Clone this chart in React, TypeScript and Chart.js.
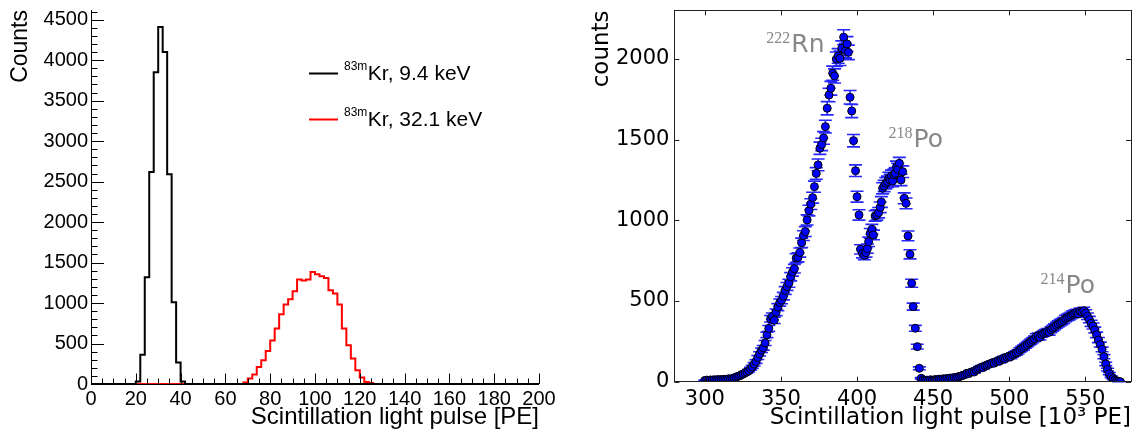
import React, { useEffect, useRef } from "react";
import { Chart, registerables } from "chart.js";

Chart.register(...registerables);

// ---------------- Left panel: 83mKr spectra ----------------
const krXTicks = [0, 20, 40, 60, 80, 100, 120, 140, 160, 180, 200];
const krYTicks = [0, 500, 1000, 1500, 2000, 2500, 3000, 3500, 4000, 4500];
const krBinWidth = 2;
const kr94BinLow = [20, 22, 24, 26, 28, 30, 32, 34, 36, 38, 40];
const kr94Counts = [30, 360, 1320, 2620, 3850, 4410, 4100, 2590, 1010, 265, 30];
const kr321BinLow = [
  68, 70, 72, 74, 76, 78, 80, 82, 84, 86, 88, 90, 92, 94, 96, 98, 100, 102, 104, 106,
  108, 110, 112, 114, 116, 118, 120, 122, 124,
];
const kr321Counts = [
  18, 68, 117, 211, 294, 409, 537, 685, 862, 981, 1047, 1146, 1290, 1280, 1290, 1384,
  1356, 1331, 1310, 1158, 1117, 981, 685, 479, 315, 170, 80, 26, 12,
];
const legendSup = "83m";
const legendLabels = ["Kr, 9.4 keV", "Kr, 32.1 keV"];
const legendColors = ["#000000", "#ff0000"];

// ---------------- Right panel: radon chain ----------------
const pulseXTicks = [300, 350, 400, 450, 500, 550];
const countsYTicks = [0, 500, 1000, 1500, 2000];
const pulseX = [
  300.0, 301.2, 302.4, 303.6, 304.8, 306.0, 307.2, 308.4, 309.6, 310.8, 312.0, 313.2, 314.4, 315.6, 316.8,
  318.0, 319.2, 320.4, 321.6, 322.8, 324.0, 325.2, 326.4, 327.6, 328.8, 330.0, 331.2, 332.4, 333.6, 334.8,
  336.0, 337.2, 338.4, 339.6, 340.8, 342.0, 343.2, 344.4, 345.6, 346.8, 348.0, 349.2, 350.4, 351.6, 352.8,
  354.0, 355.2, 356.4, 357.6, 358.8, 360.0, 361.2, 362.4, 363.6, 364.8, 366.0, 367.2, 368.4, 369.6, 370.8,
  372.0, 373.2, 374.4, 375.6, 376.8, 378.0, 379.2, 380.4, 381.6, 382.8, 384.0, 385.2, 386.4, 387.6, 388.8,
  390.0, 391.2, 392.4,
  393.4, 394.3, 395.4, 396.5, 397.7, 399.0, 400.0, 401.3, 402.3, 403.6, 404.8, 405.9, 406.8, 407.6, 408.7,
  409.8, 410.8, 411.9, 413.0, 414.2, 415.2, 416.0, 416.8, 417.8, 418.9, 420.0, 420.9, 421.8, 422.6, 423.4,
  424.2, 425.1, 425.9, 426.7, 427.8, 428.9, 430.0, 431.0, 432.2, 433.5, 434.8, 435.9, 436.9, 438.3, 439.6,
  440.9, 442.2,
  443.4, 444.6, 445.8, 447.0, 448.2, 449.4, 450.6, 451.8, 453.0, 454.2, 455.4, 456.6, 457.8, 459.0, 460.2,
  461.4, 462.6, 463.8, 465.0, 466.2, 467.4, 468.6, 469.8, 471.0, 472.2, 473.4, 474.6, 475.8, 477.0, 478.2,
  479.4, 480.6, 481.8, 483.0, 484.2, 485.4, 486.6, 487.8, 489.0, 490.2, 491.4, 492.6, 493.8, 495.0, 496.2,
  497.4, 498.6, 499.8, 501.0, 502.2, 503.4, 504.6, 505.8, 507.0, 508.2, 509.4, 510.6, 511.8, 513.0, 514.2,
  515.4, 516.6, 517.8, 519.0, 520.2, 521.4, 522.6, 523.8, 525.0, 526.2, 527.4, 528.6, 529.8, 531.0, 532.2,
  533.4, 534.6, 535.8, 537.0, 538.2, 539.4, 540.6, 541.8, 543.0, 544.2, 545.4, 546.6, 547.8, 549.0, 550.2,
  551.4, 552.6, 553.8, 555.0, 556.2, 557.4, 558.6, 559.8, 561.0, 562.2, 563.4, 564.6, 565.8, 567.0, 568.2,
  569.4, 570.6, 571.8, 573.0,
];
const countsY = [
  8, 10, 7, 11, 9, 12, 10, 13, 11, 14, 12, 15, 14, 18, 16,
  20, 24, 27, 33, 36, 42, 47, 55, 60, 68, 80, 92, 108, 125, 150,
  172, 195, 210, 240, 290, 330, 390, 405, 380, 430, 462, 490, 505, 530, 565,
  590, 610, 650, 680, 700, 765, 770, 800, 860, 905, 930, 1002, 1060, 1100, 1140,
  1208, 1290, 1343, 1446, 1470, 1510, 1580, 1694, 1776, 1818, 1911, 1894, 1998, 2018, 2003,
  2066, 2134, 2051,
  2092, 2040, 1762, 1677, 1493, 1307, 1146, 1033, 820, 795, 783, 800, 824, 867, 919,
  944, 909, 1027, 1033, 1047, 1080, 1113, 1198, 1212, 1229, 1239, 1262, 1250, 1275, 1243,
  1281, 1291, 1330, 1316, 1353, 1250, 1301, 1136, 1105, 903, 789, 610, 465, 331, 217,
  83, 21,
  12, 8, 10, 7, 12, 9, 11, 14, 12, 16, 14, 18, 16, 20, 18,
  23, 21, 26, 24, 30, 32, 36, 40, 44, 52, 50, 58, 62, 60, 72,
  78, 84, 90, 88, 98, 102, 108, 112, 118, 115, 125, 130, 128, 139, 145,
  142, 152, 158, 155, 165, 172, 178, 185, 196, 205, 212, 222, 230, 240, 248,
  258, 266, 280, 285, 275, 292, 300, 305, 312, 306, 322, 331, 340, 350, 358,
  366, 372, 380, 392, 398, 403, 410, 418, 424, 428, 420, 436, 432, 440, 425,
  405, 385, 362, 345, 320, 290, 258, 230, 200, 155, 110, 75, 50, 31, 18,
  10, 5, 2, 0,
];
const peakSup = ["222", "218", "214"];
const peakName = ["Rn", "Po", "Po"];
const peakLabelX = [340.4, 420.7, 520.6];
const peakLabelY = [2043, 1454, 550];

function stepPoints(low: number[], counts: number[], width: number, from: number, to: number) {
  const pts: { x: number; y: number }[] = [{ x: from, y: 0 }];
  low.forEach((l, i) => pts.push({ x: l, y: counts[i] }));
  const end = low[low.length - 1] + width;
  pts.push({ x: end, y: 0 });
  if (to > end) pts.push({ x: to, y: 0 });
  return pts;
}

const ROOT_FONT = "'Liberation Sans', Arial, sans-serif";
const MPL_FONT = "'DejaVu Sans', sans-serif";

const leftDecor = {
  id: "leftDecor",
  afterDraw(chart: any) {
    const { ctx, chartArea } = chart;
    const xs = chart.scales.x;
    const ys = chart.scales.y;
    ctx.save();
    ctx.strokeStyle = "#000";
    ctx.lineWidth = 1;
    ctx.beginPath();
    ctx.moveTo(chartArea.left + 0.5, chartArea.top);
    ctx.lineTo(chartArea.left + 0.5, chartArea.bottom);
    ctx.moveTo(chartArea.left, chartArea.bottom + 0.5);
    ctx.lineTo(chartArea.right, chartArea.bottom + 0.5);
    ctx.stroke();
    ctx.beginPath();
    for (let v = 0; v <= ys.max; v += 100) {
      const py = Math.round(ys.getPixelForValue(v)) + 0.5;
      const len = v % 500 === 0 ? 13 : 6.5;
      ctx.moveTo(chartArea.left, py);
      ctx.lineTo(chartArea.left + len, py);
    }
    for (let v = 0; v <= xs.max; v += 5) {
      const px = Math.round(xs.getPixelForValue(v)) + 0.5;
      const len = v % 20 === 0 ? 10.5 : 5.5;
      ctx.moveTo(px, chartArea.bottom);
      ctx.lineTo(px, chartArea.bottom - len);
    }
    ctx.stroke();
    const rows = [73.5, 119.5];
    legendLabels.forEach((lab, i) => {
      const y = rows[i];
      ctx.strokeStyle = legendColors[i];
      ctx.lineWidth = 2;
      ctx.beginPath();
      ctx.moveTo(309, y);
      ctx.lineTo(338, y);
      ctx.stroke();
      ctx.fillStyle = "#000";
      ctx.textBaseline = "alphabetic";
      ctx.textAlign = "left";
      ctx.font = `12px ${ROOT_FONT}`;
      ctx.fillText(legendSup, 344, y - 3.5);
      const w = ctx.measureText(legendSup).width;
      ctx.font = `21px ${ROOT_FONT}`;
      ctx.fillText(lab, 344 + w + 0.5, y + 6.5);
    });
    ctx.restore();
  },
};

const rightDecor = {
  id: "rightDecor",
  beforeDatasetsDraw(chart: any) {
    const { ctx } = chart;
    const xs = chart.scales.x;
    const ys = chart.scales.y;
    ctx.save();
    ctx.strokeStyle = "rgba(0,0,255,0.85)";
    ctx.lineWidth = 1.6;
    ctx.beginPath();
    pulseX.forEach((xv, i) => {
      const yv = countsY[i];
      const err = Math.sqrt(yv);
      const px = xs.getPixelForValue(xv);
      const pTop = ys.getPixelForValue(yv + err);
      const pBot = ys.getPixelForValue(Math.max(0, yv - err));
      ctx.moveTo(px, pTop);
      ctx.lineTo(px, pBot);
      ctx.moveTo(px - 6.5, pTop);
      ctx.lineTo(px + 6.5, pTop);
      ctx.moveTo(px - 6.5, pBot);
      ctx.lineTo(px + 6.5, pBot);
    });
    ctx.stroke();
    ctx.restore();
  },
  afterDraw(chart: any) {
    const { ctx, chartArea } = chart;
    const xs = chart.scales.x;
    const ys = chart.scales.y;
    ctx.save();
    ctx.strokeStyle = "#222";
    ctx.lineWidth = 1;
    ctx.strokeRect(
      Math.round(chartArea.left) + 0.5,
      Math.round(chartArea.top) + 0.5,
      Math.round(chartArea.right - chartArea.left),
      Math.round(chartArea.bottom - chartArea.top)
    );
    ctx.beginPath();
    pulseXTicks.forEach((v) => {
      const px = Math.round(xs.getPixelForValue(v)) + 0.5;
      ctx.moveTo(px, chartArea.bottom);
      ctx.lineTo(px, chartArea.bottom - 5);
      ctx.moveTo(px, chartArea.top);
      ctx.lineTo(px, chartArea.top + 5);
    });
    countsYTicks.forEach((v) => {
      const py = Math.round(ys.getPixelForValue(v)) + 0.5;
      ctx.moveTo(chartArea.left, py);
      ctx.lineTo(chartArea.left + 5, py);
      ctx.moveTo(chartArea.right, py);
      ctx.lineTo(chartArea.right - 5, py);
    });
    ctx.stroke();
    ctx.fillStyle = "#888888";
    ctx.textAlign = "left";
    ctx.textBaseline = "alphabetic";
    peakSup.forEach((s, i) => {
      const px = xs.getPixelForValue(peakLabelX[i]);
      const py = ys.getPixelForValue(peakLabelY[i]);
      ctx.font = "16px 'Liberation Serif', serif";
      ctx.fillText(s, px, py - 9);
      const w = ctx.measureText(s).width;
      ctx.font = `25px ${MPL_FONT}`;
      ctx.fillText(peakName[i], px + w + 1, py);
    });
    ctx.restore();
  },
};

function LeftChart() {
  const ref = useRef<HTMLCanvasElement>(null);
  useEffect(() => {
    if (!ref.current) return;
    const chart = new Chart(ref.current, {
      type: "line",
      data: {
        datasets: [
          {
            data: stepPoints(kr94BinLow, kr94Counts, krBinWidth, 0, 200),
            borderColor: "#000000",
            borderWidth: 2,
            stepped: "before",
            pointRadius: 0,
            fill: false,
          },
          {
            data: stepPoints(kr321BinLow, kr321Counts, krBinWidth, 20, 130),
            borderColor: "#ff0000",
            borderWidth: 2,
            stepped: "before",
            pointRadius: 0,
            fill: false,
          },
        ],
      },
      options: {
        animation: false,
        responsive: false,
        events: [],
        layout: { padding: { top: 10, right: 29, left: 0, bottom: 0 } },
        plugins: { legend: { display: false }, tooltip: { enabled: false } },
        scales: {
          x: {
            type: "linear",
            min: 0,
            max: 200,
            afterBuildTicks: (s: any) => {
              s.ticks = krXTicks.map((v) => ({ value: v }));
            },
            afterFit: (s: any) => {
              s.height = 50;
              s.paddingLeft = 0;
              s.paddingRight = 0;
            },
            grid: { display: false, drawTicks: false },
            border: { display: false },
            ticks: {
              font: { family: ROOT_FONT, size: 20 },
              color: "#000",
              padding: 3,
              maxRotation: 0,
              autoSkip: false,
              callback: (v: any) => String(v),
            },
            title: {
              display: true,
              text: "Scintillation light pulse [PE]",
              align: "end",
              color: "#000",
              font: { family: ROOT_FONT, size: 24 },
              padding: { top: 0, bottom: 2 },
            },
          },
          y: {
            type: "linear",
            min: 0,
            max: 4620,
            afterBuildTicks: (s: any) => {
              s.ticks = krYTicks.map((v) => ({ value: v }));
            },
            afterFit: (s: any) => {
              s.width = 91;
              s.paddingTop = 0;
              s.paddingBottom = 0;
            },
            grid: { display: false, drawTicks: false },
            border: { display: false },
            ticks: {
              font: { family: ROOT_FONT, size: 20 },
              color: "#000",
              padding: 3,
              autoSkip: false,
              callback: (v: any) => String(v),
            },
            title: {
              display: true,
              text: "Counts",
              align: "end",
              color: "#000",
              font: { family: ROOT_FONT, size: 23 },
              padding: { top: 7, bottom: 0 },
            },
          },
        },
      },
      plugins: [leftDecor],
    } as any);
    return () => chart.destroy();
  }, []);
  return <canvas ref={ref} width={568} height={434} style={{ width: 568, height: 434, display: "block" }} />;
}

function RightChart() {
  const ref = useRef<HTMLCanvasElement>(null);
  useEffect(() => {
    if (!ref.current) return;
    const chart = new Chart(ref.current, {
      type: "scatter",
      data: {
        datasets: [
          {
            data: pulseX.map((x, i) => ({ x, y: countsY[i] })),
            pointRadius: 4,
            pointBackgroundColor: "#0000ff",
            pointBorderColor: "#000000",
            pointBorderWidth: 1,
            showLine: false,
          },
        ],
      },
      options: {
        animation: false,
        responsive: false,
        events: [],
        layout: { padding: { top: 10.4, right: 2.7, left: 0, bottom: 0 } },
        plugins: { legend: { display: false }, tooltip: { enabled: false } },
        scales: {
          x: {
            type: "linear",
            min: 280,
            max: 580,
            afterBuildTicks: (s: any) => {
              s.ticks = pulseXTicks.map((v) => ({ value: v }));
            },
            afterFit: (s: any) => {
              s.height = 52.3;
              s.paddingLeft = 0;
              s.paddingRight = 0;
            },
            grid: { display: false, drawTicks: false },
            border: { display: false },
            ticks: {
              font: { family: MPL_FONT, size: 21 },
              color: "#000",
              padding: 5,
              maxRotation: 0,
              autoSkip: false,
              callback: (v: any) => String(v),
            },
            title: {
              display: true,
              text: "Scintillation light pulse [10³ PE]",
              align: "end",
              color: "#000",
              font: { family: MPL_FONT, size: 23 },
              padding: { top: 0, bottom: 2 },
            },
          },
          y: {
            type: "linear",
            min: 0,
            max: 2300,
            afterBuildTicks: (s: any) => {
              s.ticks = countsYTicks.map((v) => ({ value: v }));
            },
            afterFit: (s: any) => {
              s.width = 106.4;
              s.paddingTop = 0;
              s.paddingBottom = 0;
            },
            grid: { display: false, drawTicks: false },
            border: { display: false },
            ticks: {
              font: { family: MPL_FONT, size: 21 },
              color: "#000",
              padding: 5,
              autoSkip: false,
              callback: (v: any) => String(v),
            },
            title: {
              display: true,
              text: "counts",
              align: "end",
              color: "#000",
              font: { family: MPL_FONT, size: 23 },
              padding: { top: 20, bottom: 0 },
            },
          },
        },
      },
      plugins: [rightDecor],
    } as any);
    return () => chart.destroy();
  }, []);
  return <canvas ref={ref} width={568} height={434} style={{ width: 568, height: 434, display: "block" }} />;
}

export default function App() {
  return (
    <div
      style={{
        position: "absolute",
        left: 0,
        top: 0,
        width: 1136,
        height: 434,
        display: "flex",
        background: "#fff",
      }}
    >
      <LeftChart />
      <RightChart />
    </div>
  );
}
